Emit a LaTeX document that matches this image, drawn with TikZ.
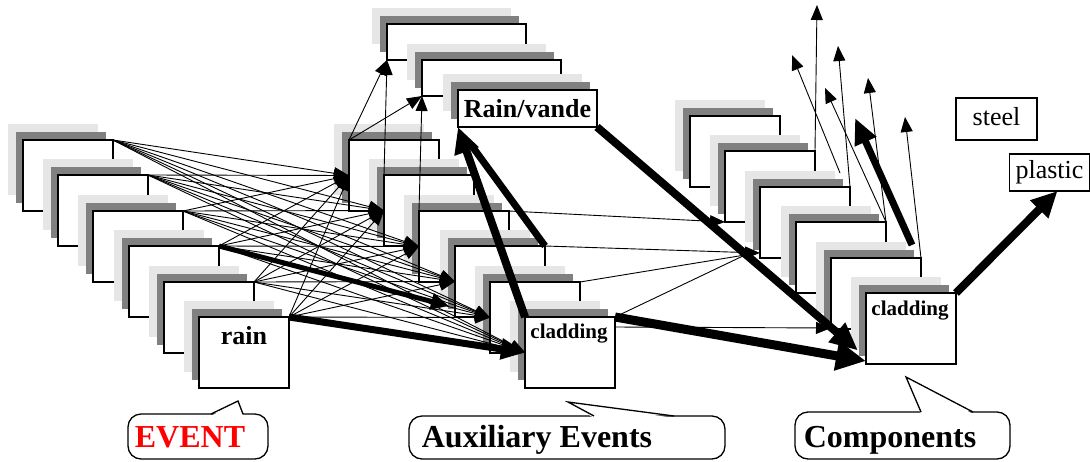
\documentclass[tikz,border=0pt]{standalone}
\usepackage{fontspec}
\setmainfont{Liberation Serif}
\usetikzlibrary{arrows.meta,shadows,calc}
\definecolor{lgray}{HTML}{E6E6E6}
\definecolor{dgray}{HTML}{808080}
\definecolor{evred}{HTML}{FF0000}
\begin{document}
\begin{tikzpicture}[x=1pt,y=-1pt,
  card/.style={draw, line width=1.3pt, fill=white, inner sep=0pt, outer sep=0pt, anchor=north west,
    minimum width=90pt, minimum height=71pt,
    general shadow={fill=lgray, shadow xshift=-15pt, shadow yshift=16pt},
    general shadow={fill=dgray, shadow xshift=-7pt, shadow yshift=8pt}},
  topcard/.style={card, minimum width=139pt, minimum height=36pt},
  plainbox/.style={draw, line width=1.2pt, fill=white, inner sep=0pt, outer sep=0pt,
    font=\fontsize{26}{26}\selectfont, text height=18pt, text depth=6pt},
  boldlbl/.style={inner sep=0pt, anchor=base, font=\fontsize{26}{26}\selectfont\bfseries},
  cladlbl/.style={inner sep=0pt, anchor=base, font=\fontsize{21}{21}\selectfont\bfseries},
  bubtext/.style={inner sep=0pt, anchor=base, font=\fontsize{32}{32}\selectfont\bfseries},
  bubble/.style={line width=1.3pt, rounded corners=13pt, fill=white},
  pointer/.style={line width=1.3pt, line join=miter},
  thinline/.style={line width=0.9pt},
  thinarr/.style={line width=0.9pt, -{Triangle[length=15pt,width=12pt]}},
  thickarr/.style={line width=8pt, -{Triangle[length=26pt,width=24pt]}}
]
\useasboundingbox (0,0) rectangle (1090,461);

% left stack (events)
\node[card] (L1) at (23,140) {};
\node[card] (L2) at (58,175) {};
\node[card] (L3) at (93,211) {};
\node[card] (L4) at (129,246) {};
\node[card] (L5) at (164,282) {};
\node[card] (L6) at (199,317) {};
\node[boldlbl] (rainlbl) at (244,344) {rain};

% middle stack (auxiliary events)
\node[topcard] (M1) at (387,24) {};
\node[topcard] (M2) at (422,60) {};
\node[topcard, minimum height=37pt, font=\fontsize{26}{26}\selectfont\bfseries,
      text height=18pt, text depth=1pt] (M3) at (458,90) {Rain/vande};
\node[card] (M4) at (349,140) {};
\node[card] (M5) at (384,175) {};
\node[card] (M6) at (419,211) {};
\node[card] (M7) at (455,246) {};
\node[card] (M8) at (490,282) {};
\node[card] (M9) at (525,317) {};
\node[cladlbl] (clad1) at (569,338) {cladding};

% right stack (components)
\node[card] (R1) at (690,116) {};
\node[card] (R2) at (725,151) {};
\node[card] (R3) at (760,187) {};
\node[card] (R4) at (796,222) {};
\node[card] (R5) at (831,258) {};
\node[card] (R6) at (866,293) {};
\node[cladlbl] (clad2) at (910,315) {cladding};

% materials
\node[plainbox, minimum width=81pt, minimum height=42pt] (steel) at (996.5,119) {steel};
\node[plainbox, minimum width=80pt, minimum height=37pt] (plastic) at (1049.5,172.5) {plastic};

% events -> auxiliary events
\foreach \i in {1,...,6}{
  \foreach \j in {4,...,9}{
    \draw[thinarr] (L\i.north east) -- (M\j.west);
  }
}
\draw[line width=5pt, -{Triangle[length=18pt,width=16pt]}] (L4.north east) -- ([shift={(-6pt,11pt)}]M7.south west);
\draw[line width=7pt, -{Triangle[length=24pt,width=20pt]}] (L6.north east) -- (M9.west);

% within auxiliary events
\draw[thinarr] (M4.north west) -- (M1.south west);
\draw[thinarr] (M4.north west) -- (M2.south west);
\draw[thinarr] (M5.north west) -- (M1.south west);
\draw[thinarr] (M6.north west) -- (M2.south west);
\draw[thickarr] (M9.north west) -- (M3.south west);
\draw[line width=7pt, shorten >=22pt] (M7.north east) -- (M3.south west);

% auxiliary events -> components
\coordinate (cv) at ([shift={(-15pt,3pt)}]R3.south west);
\draw[thinarr] (M6.north east) -- (R2.south west);
\draw[thinarr] (M7.north east) -- ([yshift=5pt]R3.south west);
\draw[thinline] (M8.north east) -- (cv);
\draw[thinline] (M9.north east) -- (cv);
\draw[thinarr] ([yshift=-10pt]M9.north east) -- ([yshift=1pt]R5.south west);
\draw[line width=8pt, -{Triangle[length=28pt,width=24pt]}] (M3.south east) -- ([shift={(-8pt,-22pt)}]R6.west);
\draw[line width=9pt, -{Triangle[length=30pt,width=28pt]}] (M9.north east) -- ([yshift=3pt]R6.south west);

% components -> materials / upward
\draw[thickarr] (R6.north east) -- ([xshift=48pt]plastic.south west);
\coordinate (t1) at (817,5);
\coordinate (s2) at (840,173);
\coordinate (t2) at (792,55);
\coordinate (t3) at (838,46);
\coordinate (t4) at (825,88);
\coordinate (t5) at (868,78);
\coordinate (s6) at (912,245);
\coordinate (t6) at (855,118);
\coordinate (t7) at (905,117);
\draw[thinarr] (R2.north east) -- (t1);
\draw[thinarr] (s2) -- (t2);
\draw[thinarr] (R3.north east) -- (t3);
\draw[thinarr] (R4.north east) -- (t4);
\draw[thinarr] (R4.north east) -- (t5);
\draw[line width=7pt, -{Triangle[length=26pt,width=22pt]}] (s6) -- (t6);
\draw[thinarr] (R5.north east) -- (t7);

% callouts
\draw[bubble] (128,414) rectangle (268,459);
\fill[white] (211,416) -- (238,401) -- (243,416) -- cycle;
\draw[pointer] (211,414) -- (238,401) -- (243,414);
\node[bubtext, text=evred] (ev) at (190,447) {EVENT};

\draw[bubble] (409,416) rectangle (725,459);
\fill[white] (594,418) -- (568,402) -- (674,418) -- cycle;
\draw[pointer] (594,416) -- (568,402) -- (674,416);
\node[bubtext] (aux) at (537,447) {Auxiliary Events};

\draw[bubble] (795,412) rectangle (1010,459);
\fill[white] (921,414) -- (906,377) -- (973,414) -- cycle;
\draw[pointer] (921,412) -- (906,377) -- (973,412);
\node[bubtext] (comp) at (890,447) {Components};
\end{tikzpicture}
\end{document}
